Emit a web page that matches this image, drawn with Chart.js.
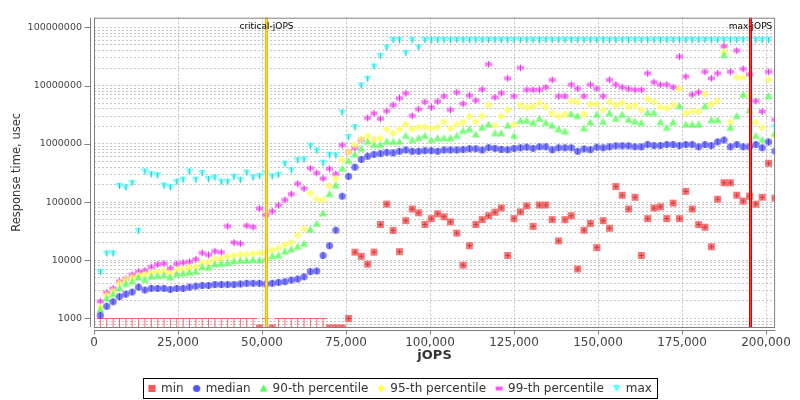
<!DOCTYPE html>
<html>
<head>
<meta charset="utf-8">
<script src="https://cdn.jsdelivr.net/npm/chart.js@4.4.1/dist/chart.umd.min.js"></script>
<style>
  html, body { margin: 0; padding: 0; background: #fff; }
  #wrap { width: 800px; height: 400px; }
</style>
</head>
<body>
<div id="wrap"><canvas id="rt" width="800" height="400"></canvas></div>
<script>
// jOPS levels of the response-time curve
const jops = [
  1894, 3788, 5682, 7576, 9470, 11364, 13258, 15152, 17046, 18940,
  20834, 22728, 24622, 26516, 28410, 30304, 32198, 34092, 35986, 37880,
  39774, 41668, 43562, 45456, 47350, 49244, 51138, 53032, 54926, 56820,
  58714, 60608, 62502, 64396, 66290, 68184, 70078, 71972, 73866, 75760,
  77654, 79548, 81442, 83336, 85230, 87124, 89018, 90912, 92806, 94700,
  96594, 98488, 100382, 102276, 104170, 106064, 107958, 109852, 111746, 113640,
  115534, 117428, 119322, 121216, 123110, 125004, 126898, 128792, 130686, 132580,
  134474, 136368, 138262, 140156, 142050, 143944, 145838, 147732, 149626, 151520,
  153414, 155308, 157202, 159096, 160990, 162884, 164778, 166672, 168566, 170460,
  172354, 174248, 176142, 178036, 179930, 181824, 183718, 185612, 187506, 189400,
  191294, 193188, 195082, 196976, 198870, 200764, 202658
];

// response times, usec (null = below the plotted range, drawn as a stub)
const minTimes = [
  null, null, null, null, null, null, null, null, null, null,
  null, null, null, null, null, null, null, null, null, null,
  null, null, null, null, null, 690, null, 690, null, null,
  null, null, null, null, null, null, 690, 690, 690, 1000,
  13800, 11700, 8570, 13800, 41200, 92400, 32600, 14100, 48000, 76000,
  65400, 41200, 52000, 63000, 56000, 45600, 29300, 8250, 17800, 41200,
  50000, 58300, 67000, 79400, 12100, 52000, 68000, 86000, 38300, 89000,
  89000, 50000, 21500, 50000, 58300, 7070, 32900, 43000, 16500, 48000,
  35500, 185000, 131000, 76000, 121000, 12100, 52000, 79000, 83000, 52000,
  96000, 52000, 153000, 76000, 41000, 37000, 17100, 112000, 215000, 215000,
  131000, 104000, 126000, 92000, 121000, 464000, 117000
];
const minBelowAxis = [
  1894, 3788, 5682, 7576, 9470, 11364, 13258, 15152, 17046, 18940,
  20834, 22728, 24622, 26516, 28410, 30304, 32198, 34092, 35986, 37880,
  39774, 41668, 43562, 45456, 47350, 51138, 54926, 56820, 58714, 60608,
  62502, 64396, 66290, 68184
];
const medianTimes = [
  1135, 1620, 1940, 2380, 2610, 2850, 3450, 3080, 3290, 3290,
  3290, 3160, 3290, 3290, 3450, 3590, 3690, 3690, 3830, 3830,
  3830, 3830, 3920, 4030, 4030, 4030, 3920, 4030, 4170, 4290,
  4570, 4760, 5200, 6380, 6550, 12100, 17800, 32900, 126000, 277000,
  398000, 540000, 612000, 660000, 680000, 715000, 700000, 745000, 785000, 745000,
  745000, 765000, 765000, 745000, 785000, 785000, 785000, 800000, 825000, 825000,
  785000, 860000, 835000, 804000, 794000, 835000, 857000, 877000, 835000, 891000,
  891000, 794000, 857000, 857000, 857000, 745000, 820000, 794000, 877000, 857000,
  891000, 926000, 926000, 926000, 891000, 891000, 973000, 937000, 937000, 973000,
  973000, 937000, 973000, 973000, 891000, 973000, 937000, 1080000, 1166000, 891000,
  973000, 891000, 891000, 973000, 857000, 1080000, 754000
];
const p90Times = [
  1410, 2200, 2610, 3290, 3920, 4350, 5070, 4640, 5270, 5330,
  5470, 5070, 5750, 5900, 6150, 6380, 7630, 7430, 8470, 8690,
  9030, 9630, 9850, 9850, 10100, 10000, 10600, 11700, 12100, 14100,
  15300, 17100, 19200, 33600, 42400, 63800, 137000, 194000, 373000, 507000,
  656000, 826000, 1090000, 960000, 960000, 1090000, 1090000, 1090000, 1370000, 1160000,
  1250000, 1370000, 1160000, 1250000, 1250000, 1250000, 1370000, 1670000, 1780000, 1450000,
  1900000, 2150000, 1520000, 1520000, 2060000, 1370000, 2500000, 2500000, 2300000, 2700000,
  2300000, 2060000, 1780000, 1630000, 3250000, 3000000, 1850000, 2330000, 3170000, 2400000,
  3350000, 2700000, 3170000, 2600000, 2400000, 2300000, 3400000, 3400000, 2350000, 1900000,
  2350000, 4450000, 2150000, 2150000, 2150000, 4450000, 2550000, 2550000, 33500000, 1900000,
  3000000, 7000000, 3770000, 1370000, 1170000, 6600000, 1520000
];
const p95Times = [
  1560, 2510, 2960, 4070, 4640, 5070, 5470, 5750, 6210, 6210,
  6550, 5990, 6810, 7070, 7430, 7730, 9120, 9120, 10400, 10600,
  11700, 12100, 12600, 12600, 12900, 13250, 13700, 15000, 16200, 18500,
  20200, 27000, 34500, 143000, 113000, 109000, 189000, 254000, 530000, 730000,
  956000, 1210000, 1370000, 1170000, 1250000, 1780000, 1520000, 1780000, 2150000, 1780000,
  1940000, 1940000, 1840000, 1940000, 2400000, 1840000, 2150000, 2350000, 2970000, 2400000,
  3000000, 4640000, 2060000, 2970000, 3840000, 2150000, 4640000, 4200000, 4450000, 5050000,
  4300000, 3350000, 2970000, 3250000, 5450000, 5250000, 3250000, 4800000, 4800000, 3840000,
  5250000, 4640000, 5050000, 4300000, 4640000, 3840000, 5900000, 5250000, 4300000, 4100000,
  4640000, 8800000, 3350000, 3600000, 3600000, 7200000, 4800000, 5450000, 38000000, 2350000,
  13800000, 13800000, 6800000, 2350000, 1900000, 12700000, 1370000
];
const p99Times = [
  1970, 2780, 3290, 4350, 4820, 5620, 6380, 6630, 7630, 8470,
  8800, 7260, 8690, 9120, 9370, 10400, 13400, 12400, 14300, 13700,
  38500, 20200, 19400, 39200, 37300, 77500, 60000, 69800, 88000, 109000,
  137000, 207000, 171000, 381000, 316000, 254000, 373000, 305000, 956000, 730000,
  850000, 1170000, 2790000, 3350000, 2700000, 3670000, 4640000, 6100000, 7400000, 3040000,
  3940000, 5250000, 4250000, 5350000, 6600000, 3840000, 7700000, 4900000, 6800000, 5600000,
  8600000, 23300000, 6300000, 7500000, 13400000, 6600000, 20300000, 8500000, 8500000, 8500000,
  9400000, 12600000, 6600000, 6600000, 10400000, 8900000, 6600000, 10400000, 8900000, 6600000,
  12600000, 10400000, 9400000, 8800000, 8500000, 8500000, 16300000, 11500000, 10400000, 10400000,
  9400000, 31600000, 14300000, 7000000, 7700000, 17300000, 13400000, 16300000, 47500000, 17300000,
  40000000, 19400000, 15600000, 5450000, 3600000, 17300000, 2600000
];
const maxTimes = [
  6200, 12900, 12900, 187000, 175000, 211000, 31600, 330000, 296000, 284000,
  189000, 177000, 220000, 238000, 330000, 238000, 311000, 245000, 260000, 220000,
  220000, 267000, 237000, 316000, 260000, 277000, 305000, 271000, 290000, 448000,
  347000, 516000, 530000, 915000, 754000, 464000, 640000, 622000, 3400000, 1290000,
  1900000, 9900000, 12900000, 21000000, 32000000, 44700000, 60000000, 60000000, 36000000, 60000000,
  44700000, 60000000, 60000000, 60000000, 60000000, 60000000, 60000000, 60000000, 60000000, 60000000,
  60000000, 60000000, 60000000, 60000000, 60000000, 60000000, 60000000, 60000000, 60000000, 60000000,
  60000000, 60000000, 60000000, 60000000, 60000000, 60000000, 60000000, 60000000, 60000000, 60000000,
  60000000, 60000000, 60000000, 60000000, 60000000, 60000000, 60000000, 60000000, 60000000, 60000000,
  60000000, 60000000, 60000000, 60000000, 60000000, 60000000, 60000000, 60000000, 60000000, 60000000,
  60000000, 60000000, 60000000, 60000000, 60000000, 60000000, 1900000
];

const xTicks = [0, 25000, 50000, 75000, 100000, 125000, 150000, 175000, 200000];
const yTicks = [1000, 10000, 100000, 1000000, 10000000, 100000000];
const criticalJops = 51050;
const maxJops = 195082;

const X_MAX = 202700;
const Y_MIN = 714;
const Y_MAX = 147100000;

// every 1..9 x 10^k inside the range gets a grid line, decades get labels
const yGrid = [];
for (let d = 100; d <= 1e8; d *= 10) {
  for (let m = 1; m <= 9; m++) {
    const v = m * d;
    if (v >= Y_MIN && v <= Y_MAX) yGrid.push(v);
  }
}

// marker glyphs, drawn once and used as point styles
function glyph(kind, rgb, alpha, withLine) {
  const c = document.createElement('canvas');
  c.width = 9; c.height = 9;
  const g = c.getContext('2d');
  const fill = 'rgba(' + rgb.join(',') + ',' + alpha + ')';
  const dark = 'rgba(' + rgb.map(v => Math.round(v * 0.7)).join(',') + ',' + alpha + ')';
  g.fillStyle = fill;
  g.beginPath();
  if (kind === 'square') g.rect(1, 1, 7, 7);
  if (kind === 'circle') g.arc(4.5, 4.5, 3.6, 0, Math.PI * 2);
  if (kind === 'up') { g.moveTo(4.5, 0.5); g.lineTo(8.5, 7.5); g.lineTo(0.5, 7.5); g.closePath(); }
  if (kind === 'diamond') { g.moveTo(4.5, 0.5); g.lineTo(8.5, 4.5); g.lineTo(4.5, 8.5); g.lineTo(0.5, 4.5); g.closePath(); }
  if (kind === 'rect') g.rect(1, 2.5, 7, 4);
  if (kind === 'down') { g.moveTo(0.5, 1); g.lineTo(8.5, 1); g.lineTo(4.5, 8); g.closePath(); }
  g.fill();
  if (withLine) {
    g.strokeStyle = dark;
    g.lineWidth = 1;
    g.beginPath();
    if (kind === 'square') { g.moveTo(4.5, 2); g.lineTo(4.5, 7); g.moveTo(2, 4.5); g.lineTo(7, 4.5); }
    if (kind === 'circle') { g.moveTo(4.5, 1); g.lineTo(4.5, 8); }
    if (kind === 'rect') { g.moveTo(4.5, 1); g.lineTo(4.5, 8); }
    if (kind === 'down') { g.moveTo(4.5, 1); g.lineTo(4.5, 7); }
    g.stroke();
  }
  return c;
}

function stubGlyph() {
  const c = document.createElement('canvas');
  c.width = 7; c.height = 18;
  const g = c.getContext('2d');
  g.strokeStyle = 'rgba(255,85,85,0.9)';
  g.lineWidth = 1;
  g.beginPath();
  g.moveTo(0, 0.5); g.lineTo(7, 0.5);
  g.moveTo(3.5, 0); g.lineTo(3.5, 18);
  g.stroke();
  return c;
}

const series = [
  { label: 'min', values: minTimes, kind: 'square', rgb: [255, 85, 85], line: true },
  { label: 'median', values: medianTimes, kind: 'circle', rgb: [85, 85, 255], line: true },
  { label: '90-th percentile', values: p90Times, kind: 'up', rgb: [85, 255, 85], line: false },
  { label: '95-th percentile', values: p95Times, kind: 'diamond', rgb: [255, 255, 85], line: false },
  { label: '99-th percentile', values: p99Times, kind: 'rect', rgb: [255, 85, 255], line: true },
  { label: 'max', values: maxTimes, kind: 'down', rgb: [85, 255, 255], line: true }
];

const datasets = series.map(s => ({
  label: s.label,
  data: jops.map((x, i) => ({ x: x, y: s.values[i] })).filter(p => p.y !== null),
  pointStyle: glyph(s.kind, s.rgb, 0.8, s.line),
  pointRadius: 4,
  showLine: false
}));
datasets.push({
  label: 'min (below range)',
  data: minBelowAxis.map(x => ({ x: x, y: Y_MIN })),
  pointStyle: stubGlyph(),
  pointRadius: 4,
  showLine: false
});

const legendIcons = series.map(s => glyph(s.kind, s.rgb, 1, false));

const FONT = '"DejaVu Sans", "Liberation Sans", sans-serif';

const decorPlugin = {
  id: 'decor',
  afterDatasetsDraw(chart) {
    const { ctx, chartArea: a, scales: { x } } = chart;
    const marks = [
      [criticalJops, 'critical-jOPS', '#f5b400', '#ffd84d'],
      [maxJops, 'max-jOPS', '#e00000', '#ff3c3c']
    ];
    ctx.save();
    marks.forEach(([v, text, outer, inner]) => {
      const px = Math.round(x.getPixelForValue(v)) + 0.5;
      ctx.strokeStyle = outer;
      ctx.lineWidth = 3;
      ctx.beginPath(); ctx.moveTo(px, a.top); ctx.lineTo(px, a.bottom); ctx.stroke();
      ctx.strokeStyle = inner;
      ctx.lineWidth = 1;
      ctx.beginPath(); ctx.moveTo(px, a.top); ctx.lineTo(px, a.bottom); ctx.stroke();
      ctx.fillStyle = '#000';
      ctx.font = '9px ' + FONT;
      ctx.textAlign = 'center';
      ctx.textBaseline = 'alphabetic';
      ctx.fillText(text, px, a.top + 11);
    });
    ctx.restore();
  },
  afterDraw(chart) {
    const { ctx, chartArea: a, scales: { x, y } } = chart;
    ctx.save();
    ctx.strokeStyle = '#808080';
    ctx.lineWidth = 1;
    ctx.strokeRect(a.left + 0.5, a.top + 0.5, a.right - a.left - 1, a.bottom - a.top);

    // axes sit a few pixels off the plot, as in the original
    const ax = a.left - 3.5;
    const ay = a.bottom + 3.5;
    ctx.beginPath();
    ctx.moveTo(ax, a.top); ctx.lineTo(ax, a.bottom);
    yTicks.forEach(v => {
      const py = Math.round(y.getPixelForValue(v)) + 0.5;
      ctx.moveTo(ax - 6, py); ctx.lineTo(ax, py);
    });
    ctx.moveTo(a.left, ay); ctx.lineTo(a.right, ay);
    xTicks.forEach(v => {
      const px = Math.round(x.getPixelForValue(v)) + 0.5;
      ctx.moveTo(px, ay); ctx.lineTo(px, ay + 4);
    });
    ctx.stroke();

    // legend
    ctx.font = '12px ' + FONT;
    const widths = series.map(s => ctx.measureText(s.label).width);
    const iconW = 8, gap = 5, space = 9, pad = 5;
    const total = pad * 2 + widths.reduce((t, w) => t + iconW + gap + w, 0) + space * (series.length - 1);
    const bx = Math.round(400 - total / 2);
    const by = 378;
    ctx.strokeStyle = '#000';
    ctx.strokeRect(bx + 0.5, by + 0.5, Math.round(total), 20);
    let cx = bx + pad;
    ctx.textBaseline = 'middle';
    ctx.textAlign = 'left';
    ctx.fillStyle = '#333';
    series.forEach((s, i) => {
      ctx.drawImage(legendIcons[i], cx - 0.5, by + 6);
      cx += iconW + gap;
      ctx.fillText(s.label, cx, by + 11);
      cx += widths[i] + space;
    });
    ctx.restore();
  }
};

new Chart(document.getElementById('rt'), {
  type: 'scatter',
  data: { datasets: datasets },
  options: {
    responsive: false,
    animation: false,
    devicePixelRatio: 1,
    layout: { padding: { top: 10, right: 12, left: 0, bottom: 0 } },
    plugins: {
      legend: { display: false },
      tooltip: { enabled: false }
    },
    scales: {
      x: {
        type: 'linear',
        min: 0,
        max: X_MAX,
        afterBuildTicks: (scale) => { scale.ticks = xTicks.map(v => ({ value: v })); },
        afterFit: (scale) => { scale.height = 73; },
        border: { display: false, dash: [2, 2] },
        grid: { color: '#c4c4c4', drawTicks: false },
        ticks: {
          autoSkip: false,
          maxRotation: 0,
          padding: 9,
          color: '#444',
          font: { family: FONT, size: 12 },
          callback: (v) => Number(v).toLocaleString('en-US')
        },
        title: {
          display: true,
          text: 'jOPS',
          color: '#333',
          font: { family: FONT, size: 13, weight: 'bold' },
          padding: { top: 0, bottom: 37 }
        }
      },
      y: {
        type: 'logarithmic',
        min: Y_MIN,
        max: Y_MAX,
        afterBuildTicks: (scale) => { scale.ticks = yGrid.map(v => ({ value: v })); },
        afterFit: (scale) => { scale.width = 94; },
        border: { display: false, dash: [2, 2] },
        grid: { color: '#c4c4c4', drawTicks: false },
        ticks: {
          autoSkip: false,
          padding: 12,
          color: '#444',
          font: { family: FONT, size: 9.5 },
          callback: (v) => (yTicks.includes(v) ? String(v) : '')
        },
        title: {
          display: true,
          text: 'Response time, usec',
          color: '#333',
          font: { family: FONT, size: 11.5 },
          padding: { top: 10, bottom: 0 }
        }
      }
    }
  },
  plugins: [decorPlugin]
});
</script>
</body>
</html>
